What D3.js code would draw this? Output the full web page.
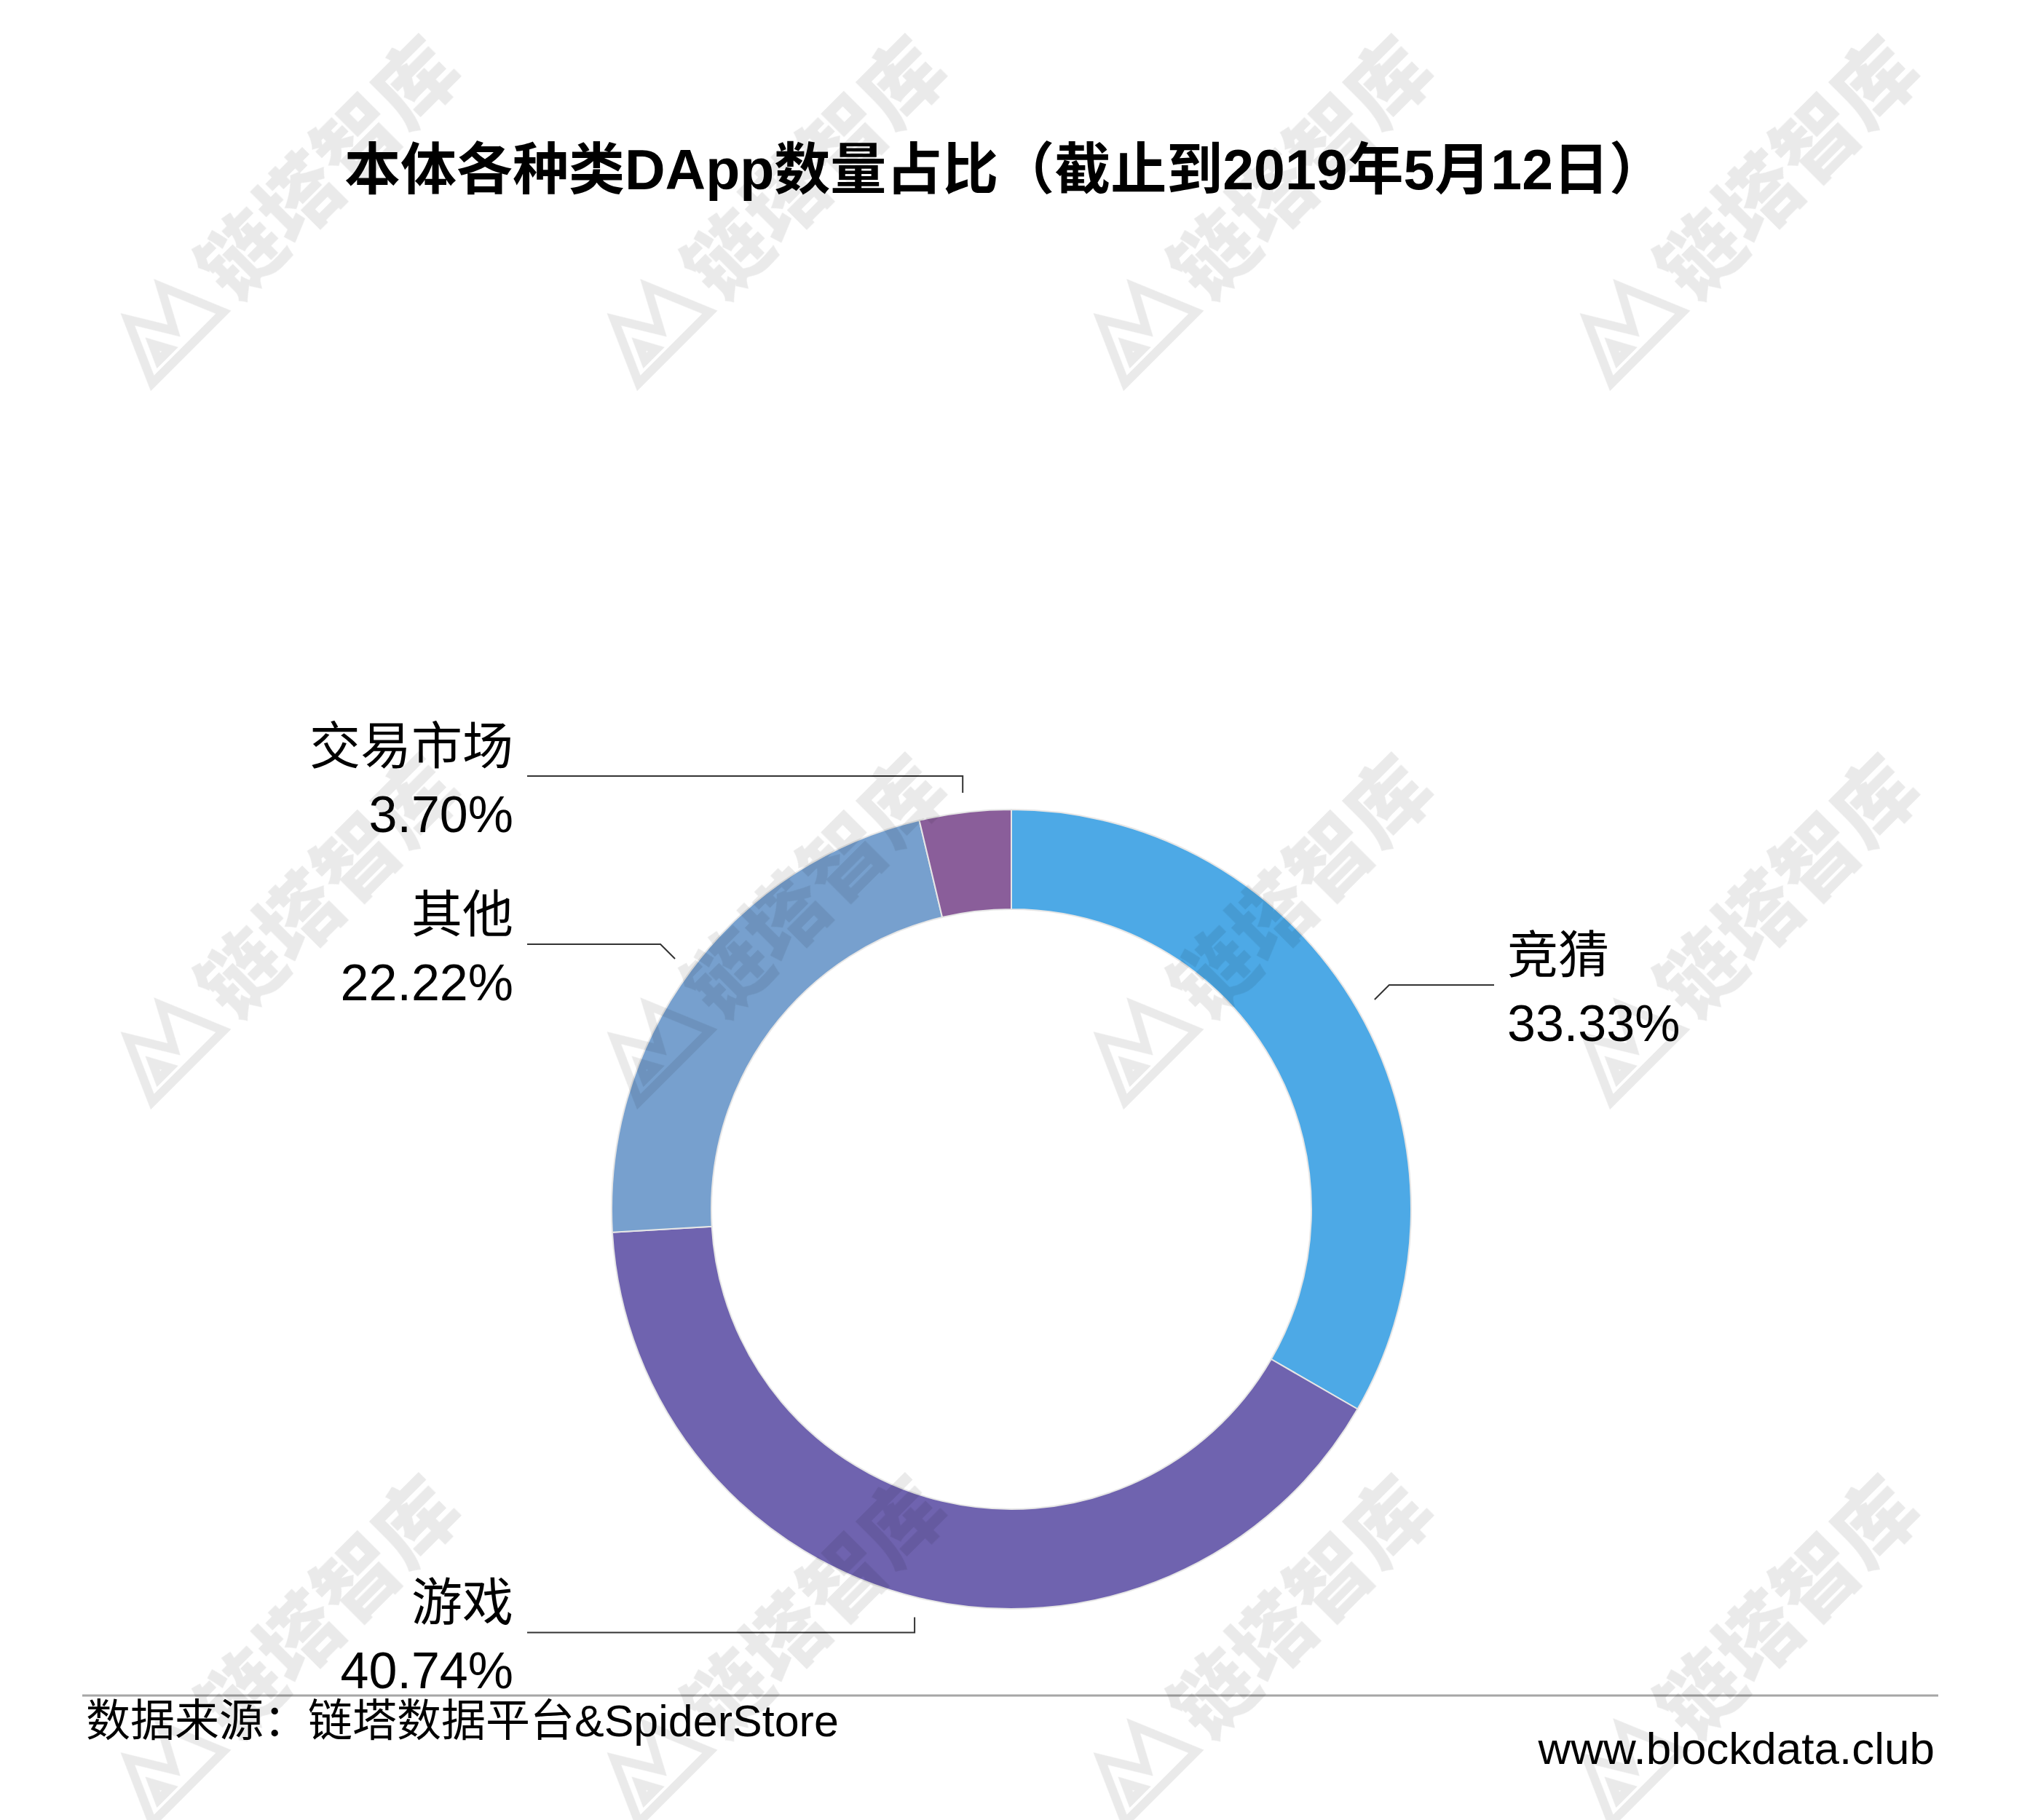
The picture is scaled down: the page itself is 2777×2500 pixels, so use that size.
<!DOCTYPE html>
<html>
<head>
<meta charset="utf-8">
<script src="https://cdn.jsdelivr.net/npm/d3@7"></script>
<style>
  html, body { margin: 0; padding: 0; background: #fff; }
  svg { display: block; }
</style>
</head>
<body>
<script>
// ---- data ----
const categories = ["竞猜", "游戏", "其他", "交易市场"];
const shares = [33.33, 40.74, 22.22, 3.70];
const colors = ["#4DA9E6", "#6F63AF", "#77A0CE", "#8A5E9A"];
const titleText = "本体各种类DApp数量占比（截止到2019年5月12日）";
const sourceText = "数据来源：链塔数据平台&SpiderStore";
const siteText = "www.blockdata.club";
const watermarkText = "链塔智库";

// ---- layout ----
const W = 2777, H = 2500;
const cx = 1389, cy = 1661, R = 549, r = 412;
const FONT = "'Liberation Sans', 'Noto Sans CJK SC', sans-serif";

const svg = d3.select("body").append("svg")
  .attr("width", W).attr("height", H)
  .attr("viewBox", `0 0 ${W} ${H}`);

svg.append("rect").attr("width", W).attr("height", H).attr("fill", "#fff");

// title
svg.append("text")
  .attr("x", 1380).attr("y", 260)
  .attr("text-anchor", "middle")
  .attr("font-family", FONT)
  .attr("font-weight", "bold")
  .attr("font-size", 77)
  .attr("fill", "#000")
  .text(titleText);

// donut
const data = categories.map((c, i) => ({ name: c, value: shares[i], color: colors[i] }));
const pie = d3.pie().sort(null).value(d => d.value).startAngle(0).endAngle(2 * Math.PI);
const arcs = pie(data);
const arc = d3.arc().innerRadius(r).outerRadius(R);

const g = svg.append("g").attr("transform", `translate(${cx},${cy})`);
g.selectAll("path.slice").data(arcs).enter().append("path")
  .attr("class", "slice")
  .attr("d", arc)
  .attr("fill", d => d.data.color)
  .attr("stroke", "#e6e6e6")
  .attr("stroke-width", 2);

// leader lines + labels
const leaderR = R + 27;
const leftEnd = 724, rightEnd = 2052;
arcs.forEach(d => {
  const mid = (d.startAngle + d.endAngle) / 2;
  const s = Math.sin(mid), c = Math.cos(mid);
  const sx = cx + leaderR * s, sy = cy - leaderR * c;
  let ex, ey;
  if (Math.abs(s) < 0.35) {
    ex = sx; ey = sy + (c > 0 ? -23 : 21);
  } else {
    ex = sx + (s > 0 ? 20 : -20); ey = sy + (c > 0 ? -20 : 20);
  }
  const right = s >= 0;
  const hx = right ? rightEnd : leftEnd;
  svg.append("path")
    .attr("d", `M${sx},${sy}L${ex},${ey}L${hx},${ey}`)
    .attr("fill", "none")
    .attr("stroke", "#333")
    .attr("stroke-width", 2);
  const tx = right ? hx + 18 : hx - 19;
  const anchor = right ? "start" : "end";
  svg.append("text")
    .attr("x", tx).attr("y", ey - 16)
    .attr("text-anchor", anchor)
    .attr("font-family", FONT).attr("font-size", 70).attr("fill", "#000")
    .text(d.data.name);
  svg.append("text")
    .attr("x", tx).attr("y", ey + 77)
    .attr("text-anchor", anchor)
    .attr("font-family", FONT).attr("font-size", 70).attr("fill", "#000")
    .text(d.data.value.toFixed(2) + "%");
});

// footer
svg.append("line")
  .attr("x1", 113).attr("x2", 2662)
  .attr("y1", 2329).attr("y2", 2329)
  .attr("stroke", "#a6a6a6").attr("stroke-width", 3);

svg.append("text")
  .attr("x", 118).attr("y", 2385)
  .attr("font-family", FONT).attr("font-size", 61).attr("fill", "#000")
  .text(sourceText);

svg.append("text")
  .attr("x", 2657).attr("y", 2423)
  .attr("text-anchor", "end")
  .attr("font-family", FONT).attr("font-size", 62).attr("fill", "#000")
  .text(siteText);

// watermarks (overlay)
const wmX = [239, 907, 1575, 2243];
const wmY = [443, 1430, 2420];
const wm = svg.append("g").attr("opacity", 0.085).attr("pointer-events", "none");
wmY.forEach(y => wmX.forEach(x => {
  const gw = wm.append("g").attr("transform", `translate(${x},${y}) rotate(-45)`);
  gw.append("path")
    .attr("d", "M-80,38 L-42,-48 L-8,8 L22,-48 L58,38 Z M-52,22 L-42,0 L-30,22 Z")
    .attr("fill", "none")
    .attr("stroke", "#000")
    .attr("stroke-width", 12)
    .attr("stroke-linejoin", "miter");
  gw.append("text")
    .attr("x", 75).attr("y", 42)
    .attr("font-family", "'Noto Sans CJK SC', sans-serif")
    .attr("font-weight", 900)
    .attr("font-size", 112)
    .attr("fill", "#000")
    .text(watermarkText);
}));
</script>
</body>
</html>
